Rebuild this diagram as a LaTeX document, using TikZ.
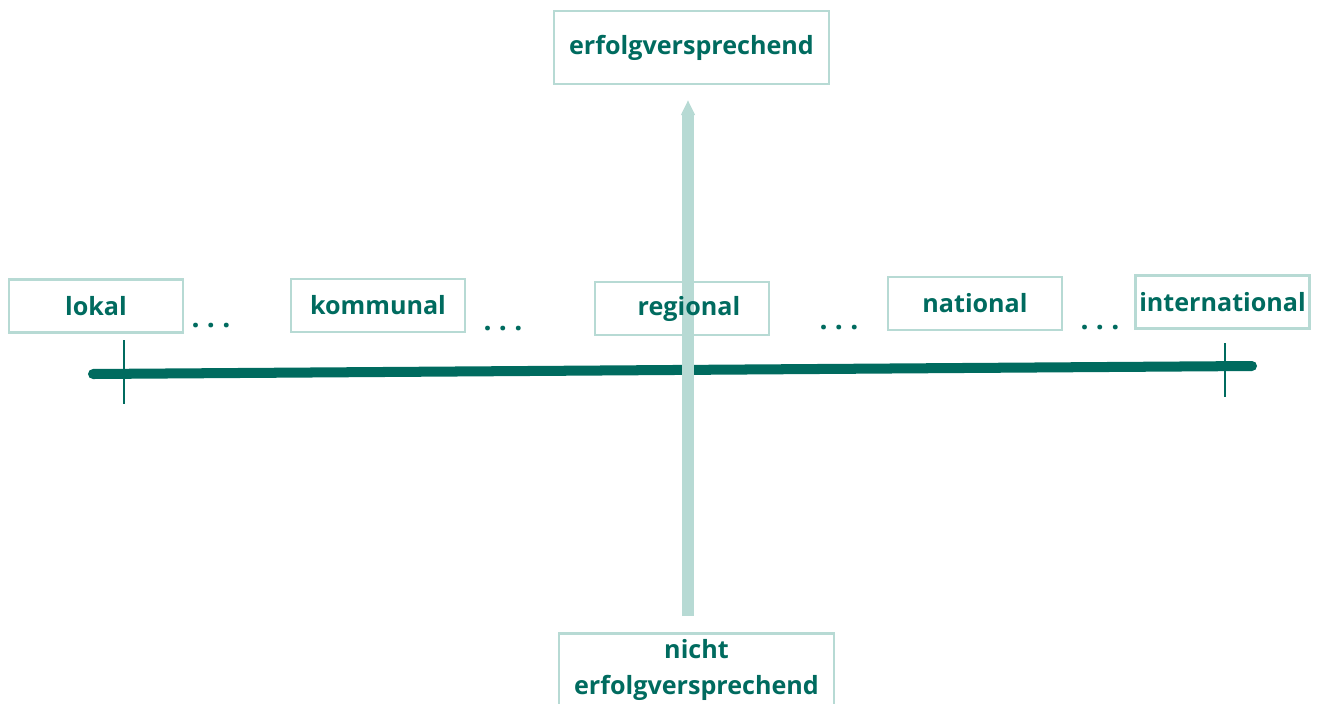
\documentclass[tikz,border=0pt]{standalone}
\usepackage{fontspec}
\setmainfont{Open Sans}
\usetikzlibrary{arrows.meta}
\definecolor{darkteal}{HTML}{006B5F}
\definecolor{lightteal}{HTML}{B7DAD4}

\begin{document}
\begin{tikzpicture}
	[x=0.02cm,y=-0.02cm,
		scale node/.style={draw=lightteal,line width=1.6pt,text=darkteal,font=\fontsize{14.3}{21}\selectfont\bfseries,minimum width=3.48cm,minimum height=1.06cm,inner sep=0pt},
		pole node/.style={scale node,minimum width=5.5cm,minimum height=1.46cm,align=center},
		gap dots/.style={text=darkteal,font=\fontsize{16}{18}\selectfont\bfseries,inner sep=0pt}]

	\useasboundingbox (0,0) rectangle (1320,704);
	\clip (0,0) rectangle (1320,704);

	% horizontal axis
	\coordinate (hleft) at (93,374);
	\coordinate (hright) at (1252,366);
	\coordinate (ltop) at (124,340);
	\coordinate (lbot) at (124,404);
	\coordinate (rtop) at (1225,343);
	\coordinate (rbot) at (1225,397);
	\draw[darkteal,line width=5.7pt,line cap=round] (hleft) -- (hright);
	\draw[darkteal,line width=1.5pt] (ltop) -- (lbot);
	\draw[darkteal,line width=1.5pt] (rtop) -- (rbot);

	% vertical axis
	\coordinate (vbot) at (688,616);
	\coordinate (vtop) at (688,100);
	\draw[lightteal,line width=6.8pt,-{Triangle[length=0.3cm,width=0.26cm]}] (vbot) -- (vtop);

	\node[scale node] (lokal) at (96,306) {lokal\hspace{0.36cm}};
	\node[scale node] (kommunal) at (378,305.5) {kommunal};
	\node[scale node] (regional) at (682,308.5) {\hspace{0.28cm}regional};
	\node[scale node] (national) at (975,303.5) {national\hspace{0.2cm}};
	\node[scale node] (international) at (1222.5,302) {international};

	\node[pole node] (erfolg) at (691.5,47.5) {erfolgversprechend};
	\node[pole node] (nichterfolg) at (696.5,670) {nicht\\erfolgversprechend};

	\node[gap dots] (dotsa) at (211,326) {.\ .\ .};
	\node[gap dots] (dotsb) at (503,329) {.\ .\ .};
	\node[gap dots] (dotsc) at (839,328) {.\ .\ .};
	\node[gap dots] (dotsd) at (1100,328) {.\ .\ .};
\end{tikzpicture}
\end{document}
